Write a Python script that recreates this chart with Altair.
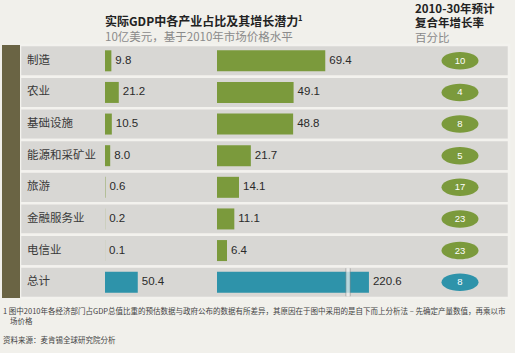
import altair as alt
import pandas as pd

cats = ["制造", "农业", "基础设施", "能源和采矿业", "旅游", "金融服务业", "电信业", "总计"]
gdp2010 = [9.8, 21.2, 10.5, 8.0, 0.6, 0.2, 0.1, 50.4]
gdp2030 = [69.4, 49.1, 48.8, 21.7, 14.1, 11.1, 6.4, 220.6]
cagr = [10, 4, 8, 5, 17, 23, 23, 8]
is_total = [False] * 7 + [True]

CAP = 97.4      # visible length of the broken total bar (data units)
BREAK_AT = 84   # position of the break mark (data units)

df = pd.DataFrame({
    "cat": cats,
    "v1": gdp2010,
    "v2": gdp2030,
    "v2d": [min(v, CAP) for v in gdp2030],
    "l1": [f"{v:.1f}" for v in gdp2010],
    "l2": [f"{v:.1f}" for v in gdp2030],
    "cagr": [str(c) for c in cagr],
    "grp": ["总计" if t else "产业" for t in is_total],
})
df_total = df[df["grp"] == "总计"].assign(brk=BREAK_AT)

FONT = "Liberation Sans, Noto Sans CJK SC, sans-serif"
CJK = "Noto Sans CJK SC, sans-serif"
GREEN = "#7b9a3c"
TEAL = "#2e93aa"

yscale = alt.Scale(domain=cats, range=[45, 298], paddingInner=0, paddingOuter=0)
Y = alt.Y("cat:N", scale=yscale, axis=None)
color = alt.Color("grp:N", scale=alt.Scale(domain=["产业", "总计"], range=[GREEN, TEAL]), legend=None)
x1 = alt.Scale(domain=[0, 100], range=[105, 170])
x2 = alt.Scale(domain=[0, 100], range=[217, 373])

base = alt.Chart(df)

rows = base.mark_rect(color="#d8d7d4", stroke="#f3f2ee", strokeWidth=2.5).encode(
    y=Y, x=alt.value(20), x2=alt.value(509))
strip = base.mark_rect(color="#6a6444").encode(
    x=alt.value(2), x2=alt.value(20), y=alt.value(45), y2=alt.value(298))

catlab = base.mark_text(align="left", baseline="middle", font=CJK, fontSize=11.5, color="#3a3a3a").encode(
    y=Y, x=alt.value(27), text="cat:N")

bar1 = base.mark_bar(size=21).encode(
    x=alt.X("v1:Q", scale=x1, axis=None), y=Y, color=color)
lab1 = base.mark_text(align="left", baseline="middle", dx=4, font=FONT, fontSize=11.5, color="#2a2a2a").encode(
    x=alt.X("v1:Q", scale=x1, axis=None), y=Y, text="l1:N")

bar2 = base.mark_bar(size=21).encode(
    x=alt.X("v2d:Q", scale=x2, axis=None), y=Y, color=color)
lab2 = base.mark_text(align="left", baseline="middle", dx=4, font=FONT, fontSize=11.5, color="#2a2a2a").encode(
    x=alt.X("v2d:Q", scale=x2, axis=None), y=Y, text="l2:N")

brk_edge_l = alt.Chart(df_total).mark_tick(size=28, thickness=1, color="#8a8a8a", xOffset=-2).encode(
    x=alt.X("brk:Q", scale=x2, axis=None), y=Y)
brk_edge_r = alt.Chart(df_total).mark_tick(size=28, thickness=1, color="#8a8a8a", xOffset=2).encode(
    x=alt.X("brk:Q", scale=x2, axis=None), y=Y)
brk = alt.Chart(df_total).mark_tick(size=28, thickness=3.5, color="#f4f4f2").encode(
    x=alt.X("brk:Q", scale=x2, axis=None), y=Y)

ellipse = "M-1,0A1,0.47,0,1,1,1,0A1,0.47,0,1,1,-1,0Z"
pill = base.mark_point(shape=ellipse, size=1369, filled=True, opacity=1, strokeWidth=0).encode(
    x=alt.value(460), y=Y, color=color)
pilltxt = base.mark_text(align="center", baseline="middle", font=FONT, fontSize=9.5, color="white").encode(
    x=alt.value(460), y=Y, text="cagr:N")

def txt(s, x, y, size=11, weight="normal", col="#222", font=CJK, align="left"):
    return alt.Chart(pd.DataFrame({"t": [s]})).mark_text(
        align=align, baseline="middle", font=font, fontSize=size, fontWeight=weight, color=col
    ).encode(x=alt.value(x), y=alt.value(y), text="t:N")

titles = [
    txt("实际GDP中各产业占比及其增长潜力", 105, 22, 12, "bold", "#222"),
    txt("1", 298, 19, 7.5, "bold", "#222"),
    txt("10亿美元，基于2010年市场价格水平", 105, 38, 11.5, "normal", "#8a8a8a"),
    txt("2010-30年预计", 415, 9.5, 11.5, "bold", "#222"),
    txt("复合年增长率", 415, 24, 11.5, "bold", "#222"),
    txt("百分比", 415, 38.5, 11.5, "normal", "#8a8a8a"),
    txt("1 图中2010年各经济部门占GDP总值比重的预估数据与政府公布的数据有所差异，其原因在于图中采用的是自下而上分析法 – 先确定产量数值，再乘以市",
        3, 312, 7.5, "normal", "#444"),
    txt("场价格", 10, 322, 7.5, "normal", "#444"),
    txt("资料来源：麦肯锡全球研究院分析", 3, 341, 7.5, "normal", "#444"),
]

chart = alt.layer(
    rows, strip, catlab, bar1, lab1, bar2, lab2, brk_edge_l, brk_edge_r, brk, pill, pilltxt, *titles
).resolve_scale(x="independent").properties(
    width=515, height=353, autosize=alt.AutoSizeParams(type="none"), padding=0
).configure(background="#f1f0eb").configure_view(stroke=None)

chart.save("out.html", embed_options={"renderer": "svg", "actions": False})
